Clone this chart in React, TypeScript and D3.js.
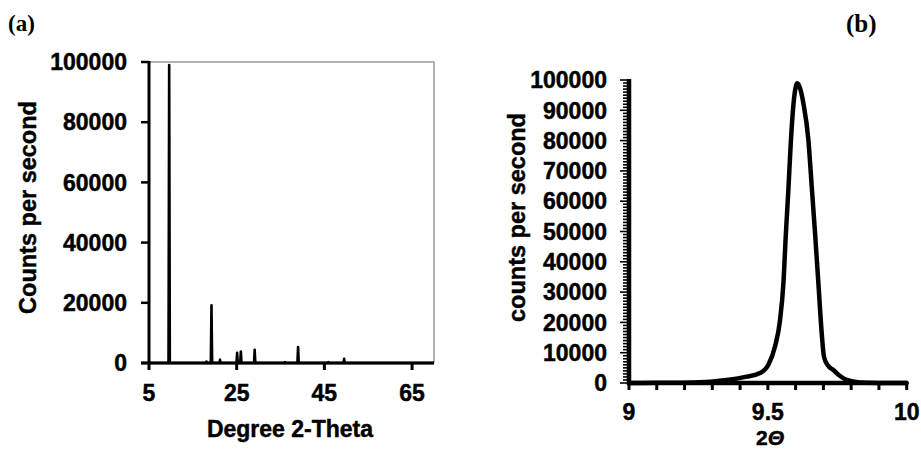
import React from "react";
import * as d3 from "d3";

// ---------- Data ----------
// Panel (a): full diffraction pattern, peaks (position in 2θ, height in cps)
const patternRange = [5, 70];
const peakPositions = [9.6, 18.1, 19.25, 21.2, 25.1, 25.95, 29.1, 36.0, 39.0, 45.9, 49.5];
const peakHeights = [99000, 500, 19200, 1100, 3400, 3800, 4400, 300, 5300, 300, 1400];
const xTicksA = [5, 25, 45, 65];
const yTicksA = [0, 20000, 40000, 60000, 80000, 100000];

// Panel (b): zoom on the main reflection
const thetaB = [9.0, 9.1, 9.232, 9.352, 9.424, 9.472, 9.502, 9.526, 9.544, 9.556, 9.565, 9.574, 9.583, 9.595, 9.606, 9.617, 9.628, 9.646, 9.658, 9.67, 9.682, 9.694, 9.702, 9.716, 9.736, 9.76, 9.784, 9.832, 9.9, 10.0];
const countsB = [0, 80, 200, 1000, 2100, 3300, 6000, 12100, 20800, 32900, 49400, 64000, 80000, 94500, 98900, 97000, 92300, 80200, 64800, 49400, 32900, 16400, 8700, 5800, 4300, 2300, 1000, 200, 30, 0];
const xTicksB = [9, 9.5, 10];
const yTicksB = [0, 10000, 20000, 30000, 40000, 50000, 60000, 70000, 80000, 90000, 100000];

const FONT = "'Liberation Sans', Arial, Helvetica, sans-serif";
const SERIF = "'Liberation Serif', 'Times New Roman', serif";

export default function App() {
  // ----- Panel (a) -----
  const xA = d3.scaleLinear().domain(patternRange).range([149, 434]);
  const yA = d3.scaleLinear().domain([0, 100000]).range([363, 62]);
  const hw = 0.15;
  const ptsA: [number, number][] = [[patternRange[0], 0]];
  peakPositions.forEach((p, i) => {
    ptsA.push([p - hw, 0], [p, peakHeights[i]], [p + hw, 0]);
  });
  ptsA.push([patternRange[1], 0]);
  const lineA = d3
    .line<[number, number]>()
    .x((d) => xA(d[0]))
    .y((d) => yA(d[1]));

  // ----- Panel (b) -----
  const xB = d3.scaleLinear().domain([9, 10]).range([629, 906.7]);
  const yB = d3.scaleLinear().domain([0, 100000]).range([383, 80]);
  const ptsB = thetaB.map((t, i) => [t, countsB[i]] as [number, number]);
  const lineB = d3
    .line<[number, number]>()
    .x((d) => xB(d[0]))
    .y((d) => yB(d[1]))
    .curve(d3.curveMonotoneX);
  const minorY = d3.range(0, 100001, 1000);
  const minorX = d3.range(0, 11).map((i) => 9 + i * 0.1);

  const txt = { fontWeight: "bold" as const, fontSize: 23, stroke: "#000", strokeWidth: 0.45 };

  return (
    <svg
      width={921}
      height={449}
      style={{ position: "absolute", left: 0, top: 0, background: "#fff" }}
      fontFamily={FONT}
    >
      {/* Panel labels */}
      <text x={8} y={31} fontFamily={SERIF} fontWeight="bold" fontSize={23}>
        (a)
      </text>
      <text x={846} y={32} fontFamily={SERIF} fontWeight="bold" fontSize={25}>
        (b)
      </text>

      {/* ===== Panel (a) ===== */}
      <g>
        <path
          d={`M${xA(5)},${yA(100000)}H${xA(70)}V${yA(0)}`}
          fill="none"
          stroke="#9a9a9a"
          strokeWidth={1.5}
        />
        <path d={lineA(ptsA) || ""} fill="none" stroke="#000" strokeWidth={2.6} strokeLinejoin="round" />
        <line x1={xA(5)} x2={xA(5)} y1={yA(100000) - 1} y2={yA(0) + 1} stroke="#000" strokeWidth={3} />
        {yTicksA.map((t) => (
          <g key={t}>
            <line x1={xA(5) - 8} x2={xA(5)} y1={yA(t)} y2={yA(t)} stroke="#000" strokeWidth={2.5} />
            <text x={127} y={yA(t)} dy="0.36em" textAnchor="end" {...txt}>
              {t}
            </text>
          </g>
        ))}
        <line x1={xA(5) - 8} x2={xA(70)} y1={yA(0)} y2={yA(0)} stroke="#000" strokeWidth={3} />
        {xTicksA.map((t) => (
          <g key={t}>
            <line x1={xA(t)} x2={xA(t)} y1={yA(0)} y2={yA(0) + 7} stroke="#000" strokeWidth={3} />
            <text x={xA(t)} y={401} textAnchor="middle" {...txt}>
              {t}
            </text>
          </g>
        ))}
        <text x={290} y={437} textAnchor="middle" {...txt}>
          Degree 2-Theta
        </text>
        <text transform={`translate(36,207.5) rotate(-90)`} textAnchor="middle" {...txt} fontSize={23.5}>
          Counts per second
        </text>
      </g>

      {/* ===== Panel (b) ===== */}
      <g>
        <path d={lineB(ptsB) || ""} fill="none" stroke="#000" strokeWidth={4.5} strokeLinejoin="round" strokeLinecap="round" />
        {minorY.map((t) => (
          <line
            key={t}
            x1={t % 10000 === 0 ? 620 : 623}
            x2={629}
            y1={yB(t)}
            y2={yB(t)}
            stroke="#000"
            strokeWidth={1.6}
          />
        ))}
        <line x1={629} x2={629} y1={yB(100000) - 1} y2={yB(0) + 2} stroke="#000" strokeWidth={4.5} />
        {yTicksB.map((t) => (
          <text key={t} x={607} y={yB(t)} dy="0.36em" textAnchor="end" {...txt}>
            {t}
          </text>
        ))}
        <line x1={627} x2={xB(10) + 1} y1={yB(0)} y2={yB(0)} stroke="#000" strokeWidth={4.5} />
        {minorX.map((t, i) => (
          <line key={i} x1={xB(t)} x2={xB(t)} y1={yB(0)} y2={yB(0) + 7} stroke="#000" strokeWidth={3} />
        ))}
        {xTicksB.map((t) => (
          <text key={t} x={xB(t)} y={420} textAnchor="middle" {...txt}>
            {t}
          </text>
        ))}
        <text x={770} y={444.5} textAnchor="middle" {...txt} fontSize={21}>
          2<tspan fontStyle="italic">Θ</tspan>
        </text>
        <text transform={`translate(525,217.5) rotate(-90)`} textAnchor="middle" {...txt} fontSize={23.5}>
          counts per second
        </text>
      </g>
    </svg>
  );
}
